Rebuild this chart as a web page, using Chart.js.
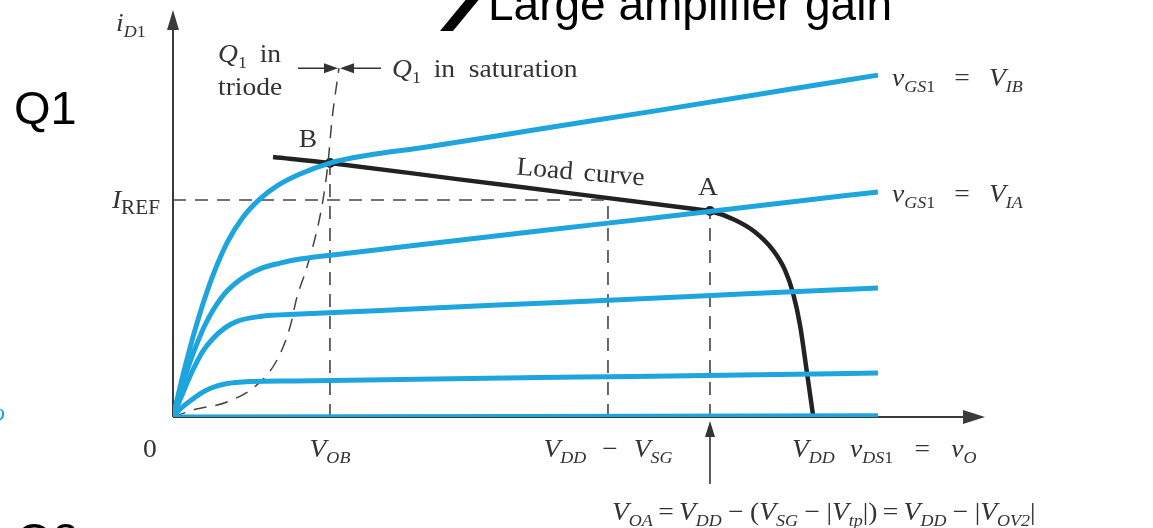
<!DOCTYPE html>
<html>
<head>
<meta charset="utf-8">
<script src="https://cdn.jsdelivr.net/npm/chart.js@4.4.1/dist/chart.umd.min.js"></script>
<style>
  html, body { margin: 0; padding: 0; background: #fff; }
  #wrap { width: 1153px; height: 528px; position: relative; }
</style>
</head>
<body>
<div id="wrap"><canvas id="myChart" width="1153" height="528"></canvas></div>
<script>
// characteristic curves of Q1, iD1 vs vDS1 (normalised units, 0..100 on each axis)
const curveVIB = [[0,0],[1.23,10.3],[2.71,21.4],[4.56,32.9],[6.65,42.8],[8.62,49.1],[10.71,53.6],[12.81,56.8],[15.64,59.7],[19.33,62.4],[24,64.3],[30.42,66.1],[45,70.7],[60,75.4],[75,80.2],[86.82,84.0]];
const curveVIA = [[0,0],[0.86,6.1],[2.09,13.5],[3.94,22.6],[6.03,29.5],[8.25,33.7],[10.71,36.4],[13.18,37.8],[15.64,38.8],[21.8,40.3],[30.42,42.3],[45,45.7],[60,49.1],[75,52.6],[86.82,55.3]];
const curveMid = [[0,0],[1.11,5.4],[2.46,11.6],[3.69,16.2],[4.93,19.3],[6.4,21.9],[7.88,23.5],[10.71,24.7],[15.64,25.3],[25,26.1],[40,27.5],[55,28.8],[70,30.2],[86.82,31.7]];
const curveLow = [[0,0],[0.86,1.9],[2.09,3.9],[3.33,5.7],[4.56,7.0],[6.4,8.1],[9.48,8.7],[15,8.85],[30,9.3],[50,9.8],[70,10.3],[86.82,10.8]];
const curveOff = [[0,0],[86.82,0.3]];

// load curve (Q2 current source seen from the output)
const loadCurve = [[12.32,63.9],[19.33,62.4],[35,58.45],[50,54.7],[64,51.15],[66.13,50.6],[69.21,48.4],[71.67,45.45],[73.89,41.0],[75.37,36.1],[76.35,30.5],[77.22,22.6],[78.08,10.8],[78.82,0.5]];

// triode / saturation boundary
const satEdge = [[0,0],[2.46,1.7],[6.65,3.7],[10.34,7.9],[12.81,14.0],[14.41,22.1],[15.27,29.5],[16.38,36.1],[17.73,45.9],[18.47,53.3],[19.09,62.4],[19.58,73.0],[20.44,85.7]];

// operating points
const opNames = ['B', 'A'];
const opX = [19.33, 66.13];
const opY = [62.4, 50.6];

const iRef = 53.3;
const vDDminusVSG = 53.57;
const vDD = 78.82;

const toXY = arr => arr.map(p => ({ x: p[0], y: p[1] }));

const BLUE = '#1ea5de';
const INK = '#333';

const blue = (data) => ({
  data: toXY(data), borderColor: BLUE, borderWidth: 5, pointRadius: 0,
  cubicInterpolationMode: 'monotone', fill: false
});
const dashed = (data) => ({
  data: toXY(data), borderColor: '#444', borderWidth: 1.6, borderDash: [13, 9],
  pointRadius: 0, fill: false, tension: 0
});

// text helpers: segs = [[text, kind, size?]], kind i/r = italic/roman, si/sr = subscript, g = gap in px
const fontFor = (k, size) => {
  const s = size || (k[0] === 's' ? 17 : 26);
  const style = k.endsWith('i') ? 'italic ' : '';
  return style + s + 'px "Liberation Serif", "DejaVu Serif", serif';
};
const gap = n => ['', 'g', n];
function rich(ctx, segs, x, y, align) {
  const S = 1.06;
  const widthOf = ([t, k, size]) => {
    if (k === 'g') return size;
    ctx.font = fontFor(k, size);
    return ctx.measureText(t).width;
  };
  let w = 0;
  segs.forEach(s => { w += widthOf(s); });
  const start = align === 'center' ? x - w * S / 2 : align === 'right' ? x - w * S : x;
  ctx.save();
  ctx.translate(start, y);
  ctx.scale(S, 1);
  let cx = 0;
  segs.forEach(s => {
    const [t, k, size] = s;
    if (k !== 'g') {
      ctx.font = fontFor(k, size);
      ctx.fillText(t, cx, k[0] === 's' ? 6 : 0);
    }
    cx += widthOf(s);
  });
  ctx.restore();
}
function arrowHead(ctx, x, y, dir, len, half) {
  // dir: unit vector the arrow points to
  const [dx, dy] = dir;
  ctx.beginPath();
  ctx.moveTo(x, y);
  ctx.lineTo(x - dx * len - dy * half, y - dy * len + dx * half);
  ctx.lineTo(x - dx * len + dy * half, y - dy * len - dx * half);
  ctx.closePath();
  ctx.fill();
}

const axesPlugin = {
  id: 'axes',
  beforeDatasetsDraw(chart) {
    const ctx = chart.ctx, xs = chart.scales.x, ys = chart.scales.y;
    const x0 = xs.getPixelForValue(0), y0 = ys.getPixelForValue(0);
    const xEnd = xs.getPixelForValue(xs.max), yEnd = ys.getPixelForValue(ys.max);
    ctx.save();
    ctx.strokeStyle = '#3a3a3a';
    ctx.fillStyle = '#3a3a3a';
    ctx.lineWidth = 2;
    ctx.beginPath();
    ctx.moveTo(x0, y0); ctx.lineTo(x0, yEnd + 10);
    ctx.moveTo(x0, y0); ctx.lineTo(xEnd - 12, y0);
    ctx.stroke();
    arrowHead(ctx, x0, yEnd, [0, -1], 20, 6);
    arrowHead(ctx, xEnd, y0, [1, 0], 22, 7);
    ctx.restore();
  }
};

const labelsPlugin = {
  id: 'labels',
  afterDraw(chart) {
    const ctx = chart.ctx, xs = chart.scales.x, ys = chart.scales.y;
    const px = v => xs.getPixelForValue(v), py = v => ys.getPixelForValue(v);
    ctx.save();
    ctx.fillStyle = INK;
    ctx.textBaseline = 'alphabetic';

    // axis names and ticks
    rich(ctx, [['i', 'i'], ['D', 'si'], ['1', 'sr']], 116, 31, 'left');
    rich(ctx, [['I', 'i'], ['REF', 'sr', 20]], px(0) - 13, py(iRef) + 8, 'right');
    const base = py(0) + 40;
    rich(ctx, [['0', 'r']], px(0) - 23, base, 'center');
    rich(ctx, [['V', 'i'], ['OB', 'si']], px(opX[0]), base, 'center');
    rich(ctx, [['V', 'i'], ['DD', 'si'], gap(15), ['\u2212', 'r'], gap(15), ['V', 'i'], ['SG', 'si']], px(vDDminusVSG), base, 'center');
    rich(ctx, [['V', 'i'], ['DD', 'si']], px(vDD) - 21, base, 'left');
    rich(ctx, [['v', 'i'], ['DS', 'si'], ['1', 'sr'], gap(20), ['=', 'r'], gap(20), ['v', 'i'], ['O', 'si']], px(vDD) + 37, base, 'left');
    rich(ctx, [['V', 'i'], ['OA', 'si'], gap(5), ['=', 'r'], gap(5), ['V', 'i'], ['DD', 'si'], gap(6), ['\u2212', 'r'], gap(6), ['(', 'r'],
               ['V', 'i'], ['SG', 'si'], gap(6), ['\u2212', 'r'], gap(6), ['|', 'r'], ['V', 'i'], ['tp', 'si'], ['|)', 'r'], gap(5), ['=', 'r'], gap(5),
               ['V', 'i'], ['DD', 'si'], gap(6), ['\u2212', 'r'], gap(6), ['|', 'r'], ['V', 'i'], ['OV2', 'si'], ['|', 'r']],
         px(opX[1]) - 98, 520, 'left');

    // arrow pointing up at V_OA
    ctx.strokeStyle = INK; ctx.lineWidth = 1.6;
    ctx.beginPath(); ctx.moveTo(px(opX[1]), 484); ctx.lineTo(px(opX[1]), py(0) + 8); ctx.stroke();
    arrowHead(ctx, px(opX[1]), py(0) + 4, [0, -1], 16, 5);

    // curve names
    const vgs = [['v', 'i'], ['GS', 'si'], ['1', 'sr'], gap(18), ['=', 'r'], gap(18), ['V', 'i']];
    rich(ctx, vgs.concat([['IB', 'si']]), 892, 86, 'left');
    rich(ctx, vgs.concat([['IA', 'si']]), 892, 202, 'left');

    // operating point letters
    rich(ctx, [[opNames[0], 'r']], px(opX[0]) - 22, py(opY[0]) - 16, 'center');
    rich(ctx, [[opNames[1], 'r']], px(opX[1]) - 2, py(opY[1]) - 16, 'center');

    // load curve caption, tilted along the line
    ctx.save();
    ctx.translate(580, 180);
    ctx.rotate(0.085);
    rich(ctx, [['Load', 'r'], gap(10), ['curve', 'r']], 0, 0, 'center');
    ctx.restore();

    // region labels with meeting arrows on top of the boundary
    const top = satEdge[satEdge.length - 1];
    const tx = px(top[0]), ty = py(top[1]);
    rich(ctx, [['Q', 'i'], ['1', 'sr'], gap(12), ['in', 'r']], 218, 62, 'left');
    rich(ctx, [['triode', 'r']], 218, 95, 'left');
    rich(ctx, [['Q', 'i'], ['1', 'sr'], gap(12), ['in', 'r'], gap(13), ['saturation', 'r']], 392, 77, 'left');
    ctx.lineWidth = 1.6;
    ctx.beginPath();
    ctx.moveTo(298, ty); ctx.lineTo(tx - 4, ty);
    ctx.moveTo(tx + 4, ty); ctx.lineTo(381, ty);
    ctx.stroke();
    arrowHead(ctx, tx - 1, ty, [1, 0], 14, 5);
    arrowHead(ctx, tx + 1, ty, [-1, 0], 14, 5);

    // slide text around the figure
    ctx.fillStyle = '#000';
    ctx.font = '46px "Liberation Sans", Arial, sans-serif';
    ctx.fillText('Large amplifier gain', 488, 20);
    ctx.beginPath();
    ctx.moveTo(440, 31); ctx.lineTo(453, 31); ctx.lineTo(481, -3); ctx.lineTo(468, -3);
    ctx.closePath(); ctx.fill();
    ctx.font = '47px "Liberation Sans", Arial, sans-serif';
    ctx.fillText('Q1', 14, 124);
    ctx.fillText('Q2', 16, 556);
    ctx.fillStyle = BLUE;
    ctx.font = 'italic 26px "Liberation Serif", serif';
    ctx.fillText('o', -8, 421);
    ctx.restore();
  }
};

const datasets = [
  blue(curveOff), blue(curveLow), blue(curveMid), blue(curveVIA), blue(curveVIB),
  dashed([[0, iRef], [vDDminusVSG, iRef]]),
  dashed([[opX[0], 0], [opX[0], opY[0]]]),
  dashed([[vDDminusVSG, 0], [vDDminusVSG, iRef]]),
  dashed([[opX[1], 0], [opX[1], opY[1]]]),
  Object.assign(dashed(satEdge), { cubicInterpolationMode: 'monotone', borderWidth: 1.5 }),
  { data: toXY(loadCurve), borderColor: '#222', borderWidth: 4.5, pointRadius: 0,
    cubicInterpolationMode: 'monotone', fill: false },
  { data: opX.map((x, i) => ({ x, y: opY[i] })), showLine: false, pointRadius: 5,
    pointBackgroundColor: '#222', pointBorderColor: '#222', pointBorderWidth: 0 }
];

const config = {
  type: 'line',
  data: { datasets },
  options: {
    responsive: false,
    animation: false,
    layout: { padding: { left: 173, right: 168, top: 10, bottom: 111 } },
    plugins: { legend: { display: false }, tooltip: { enabled: false } },
    scales: {
      x: { type: 'linear', min: 0, max: 100, display: false },
      y: { type: 'linear', min: 0, max: 100, display: false }
    }
  },
  plugins: [axesPlugin, labelsPlugin]
};

const myChartConfig = new Chart('myChart', config);
</script>
</body>
</html>
